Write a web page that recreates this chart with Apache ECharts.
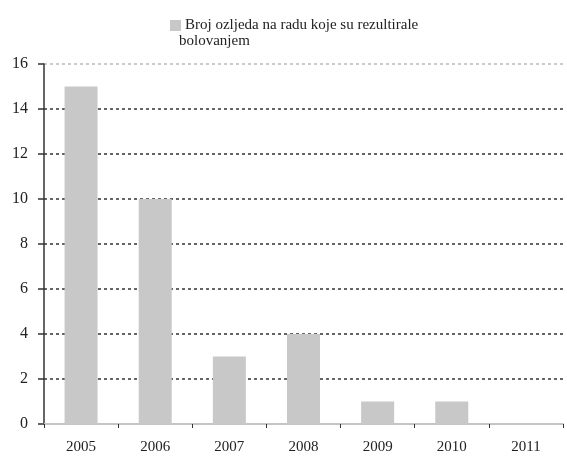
<!DOCTYPE html>
<html><head><meta charset="utf-8">
<script src="https://cdn.jsdelivr.net/npm/echarts@6/dist/echarts.min.js"></script>
<style>html,body{margin:0;padding:0;background:#fff}#c{width:567px;height:457px}</style>
</head><body><div id="c"></div>
<script>
const years = ['2005','2006','2007','2008','2009','2010','2011'];
const injuries = [15, 10, 3, 4, 1, 1, 0];
const seriesName = 'Broj ozljeda na radu koje su rezultirale bolovanjem';
const legendLine1 = 'Broj ozljeda na radu koje su rezultirale';
const legendLine2 = 'bolovanjem';
const yTicks = {min: 0, max: 16, interval: 2};

const chart = echarts.init(document.getElementById('c'));
chart.setOption({
  animation: false,
  textStyle: {fontFamily: 'Liberation Serif'},
  legend: {
    left: 165, top: 13, icon: 'rect',
    itemWidth: 11, itemHeight: 11, itemGap: 4,
    formatter: () => legendLine1,
    textStyle: {fontFamily: 'Liberation Serif', fontSize: 15, color: '#222', padding: [0,0,0,-1]},
    data: [seriesName]
  },
  graphic: [{
    type: 'text', left: 179, top: 34,
    style: {text: legendLine2, fontFamily: 'Liberation Serif', fontSize: 15, fill: '#222'}
  }],
  grid: {left: 44, right: 4, top: 64, bottom: 33},
  xAxis: {
    type: 'category', data: years,
    axisLine: {lineStyle: {color: '#c4c4c4', width: 2}},
    axisTick: {show: true, length: 4, lineStyle: {color: '#333'}},
    axisLabel: {color: '#222', fontSize: 15, fontFamily: 'Liberation Serif', margin: 16}
  },
  yAxis: {
    type: 'value', min: yTicks.min, max: yTicks.max, interval: yTicks.interval,
    axisLine: {show: true, lineStyle: {color: '#333', width: 1.5}},
    axisTick: {show: true, length: 6, lineStyle: {color: '#333', width: 1.5}},
    axisLabel: {color: '#222', fontSize: 16, fontFamily: 'Liberation Serif', margin: 16},
    splitLine: {show: true, lineStyle: {
      color: ['rgba(0,0,0,0)','#333','#333','#333','#333','#333','#333','#333','#bbb'],
      type: [3, 3], width: 1.5}}
  },
  series: [{
    name: seriesName, type: 'bar', data: injuries, barWidth: 33,
    itemStyle: {color: '#c8c8c8'}
  }]
});
</script></body></html>
